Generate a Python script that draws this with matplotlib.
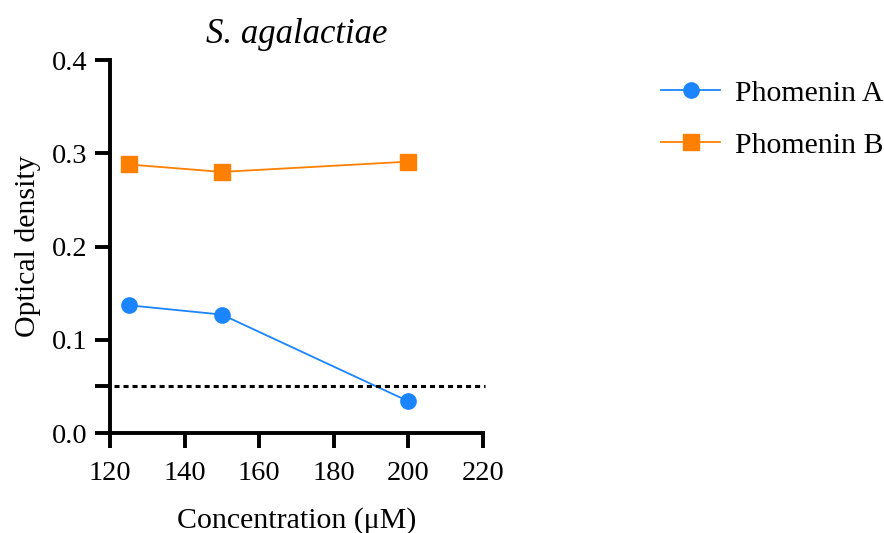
import matplotlib
matplotlib.use("Agg")
import matplotlib.pyplot as plt

# data
conc = [125, 150, 200]
phomenin_a = [0.137, 0.127, 0.034]
phomenin_b = [0.288, 0.280, 0.291]
cutoff = 0.05

plt.rcParams['font.family'] = 'Liberation Serif'
plt.rcParams['font.size'] = 21

fig = plt.figure(figsize=(8.84, 5.33), dpi=100)
ax = fig.add_axes([0.1244, 0.1876, 0.422, 0.6998])

ax.plot(conc, phomenin_a, color='#1A85FF', marker='o', markersize=11,
        linewidth=1.3, label='Phomenin A', clip_on=False)
ax.plot(conc, phomenin_b, color='#FF8000', marker='s', markersize=11,
        linewidth=1.3, label='Phomenin B', clip_on=False)

# dotted cutoff line (with its own tick on the y axis)
ax.axhline(cutoff, xmin=0.012, xmax=1.005, color='black', linestyle=(0, (1.65, 1.3)),
           linewidth=2.2, clip_on=False)

ax.set_xlim(120, 220)
ax.set_ylim(0, 0.4)
ax.set_xticks([120, 140, 160, 180, 200, 220])
ax.set_yticks([0.0, 0.1, 0.2, 0.3, 0.4])
ax.set_yticklabels(['0.0', '0.1', '0.2', '0.3', '0.4'])
ax.set_yticks([cutoff], minor=True)

for s in ['top', 'right']:
    ax.spines[s].set_visible(False)
for s in ['left', 'bottom']:
    ax.spines[s].set_linewidth(2.8)
ax.tick_params(which='both', width=2.8, length=11, labelsize=20.5)
ax.tick_params(axis='x', pad=9)
ax.tick_params(axis='y', pad=5)

ax.set_xlabel('Concentration (μM)', fontsize=21.5, labelpad=15)
ax.set_ylabel('Optical density', fontsize=21.5, labelpad=8)
ax.set_title('S. agalactiae', fontsize=25, style='italic', pad=12)

fig.legend(loc='upper left', bbox_to_anchor=(0.717, 0.901), frameon=False,
           fontsize=21.5, handlelength=2.0, labelspacing=0.85, handletextpad=0.5)

fig.savefig('out.png', dpi=100)
